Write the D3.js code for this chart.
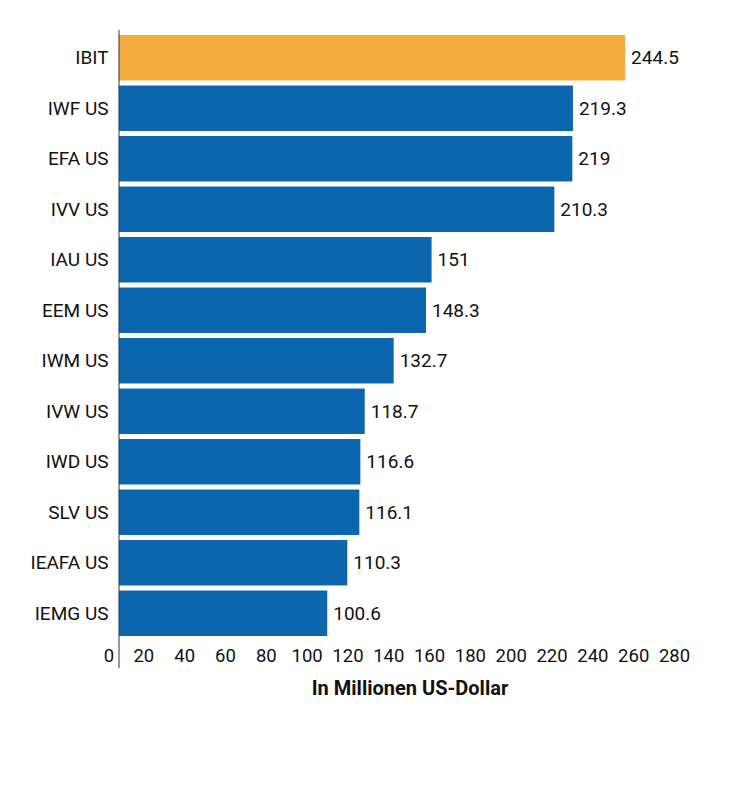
<!DOCTYPE html>
<html>
<head>
<meta charset="utf-8">
<script src="https://cdn.jsdelivr.net/npm/d3@7"></script>
<style>
  body { margin: 0; background: #fff; }
  text { font-family: Roboto, "Noto Sans", sans-serif; fill: #111; }
</style>
</head>
<body>
<div id="chart"></div>
<script>
var categories = ["IBIT", "IWF US", "EFA US", "IVV US", "IAU US", "EEM US", "IWM US", "IVW US", "IWD US", "SLV US", "IEAFA US", "IEMG US"];
var values = [244.5, 219.3, 219, 210.3, 151, 148.3, 132.7, 118.7, 116.6, 116.1, 110.3, 100.6];
var tickValues = [0, 20, 40, 60, 80, 100, 120, 140, 160, 180, 200, 220, 240, 260, 280];
var axisTitle = "In Millionen US-Dollar";

var data = categories.map(function(c, i) {
    return { Name: c, Value: values[i] };
});

var width = 729, height = 793;

var svg = d3.select("#chart")
    .append("svg")
    .attr("width", width)
    .attr("height", height);

// bars
var x = d3.scaleLinear()
    .domain([0, 280])
    .range([119, 119 + 280 * 2.07]);

// tick labels sit on their own slightly tighter spacing
var xTicks = d3.scaleLinear()
    .domain([0, 280])
    .range([102.5, 674]);

var y = d3.scaleBand()
    .domain(categories)
    .range([32.5, 638.5])
    .paddingInner(0.1)
    .paddingOuter(0.05);

svg.selectAll(".bar")
    .data(data)
    .enter()
    .append("rect")
    .attr("class", "bar")
    .attr("x", x(0))
    .attr("y", function(d) { return y(d.Name); })
    .attr("width", function(d) { return x(d.Value) - x(0); })
    .attr("height", y.bandwidth())
    .attr("fill", function(d, i) { return i === 0 ? "#F3AB3E" : "#0B66AE"; });

// value labels
svg.selectAll(".val")
    .data(data)
    .enter()
    .append("text")
    .attr("class", "val")
    .attr("x", function(d) { return x(d.Value) + 6; })
    .attr("y", function(d) { return y(d.Name) + y.bandwidth() / 2; })
    .attr("dy", "0.35em")
    .style("font-size", "19px")
    .text(function(d) { return d.Value; });

// category labels
svg.selectAll(".cat")
    .data(data)
    .enter()
    .append("text")
    .attr("class", "cat")
    .attr("x", 108.5)
    .attr("y", function(d) { return y(d.Name) + y.bandwidth() / 2; })
    .attr("dy", "0.35em")
    .attr("text-anchor", "end")
    .style("font-size", "19px")
    .text(function(d) { return d.Name; });

// vertical axis line
svg.append("line")
    .attr("x1", x(0))
    .attr("x2", x(0))
    .attr("y1", 30)
    .attr("y2", 668)
    .attr("stroke", "#333")
    .attr("stroke-width", 1);

// x axis labels
var xAxis = svg.append("g")
    .attr("transform", "translate(0,649)")
    .call(d3.axisBottom(xTicks).tickValues(tickValues).tickSize(0).tickPadding(0));

xAxis.select(".domain").remove();
xAxis.selectAll("text")
    .attr("dy", "0.71em")
    .style("font-family", "Roboto, sans-serif")
    .style("font-size", "18.5px")
    .attr("fill", "#111")
    .attr("x", function(d) { return d === 0 ? 6 : 0; });

// axis title
svg.append("text")
    .attr("x", 410)
    .attr("y", 695)
    .attr("text-anchor", "middle")
    .style("font-size", "20px")
    .style("font-weight", "bold")
    .text(axisTitle);
</script>
</body>
</html>
